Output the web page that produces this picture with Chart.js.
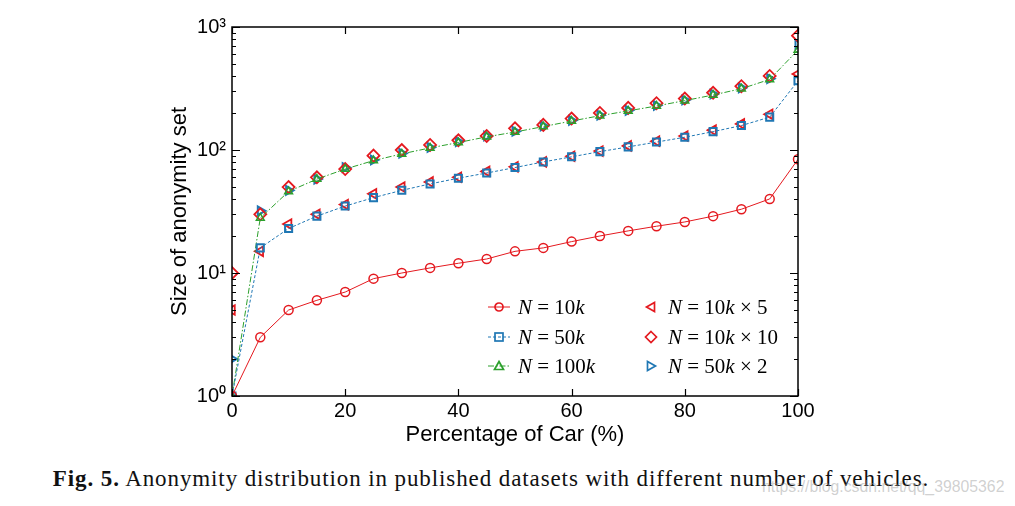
<!DOCTYPE html>
<html>
<head>
<meta charset="utf-8">
<script src="https://cdn.jsdelivr.net/npm/chart.js@4/dist/chart.umd.min.js"></script>
<style>
  body { margin: 0; background: #fff; width: 1015px; height: 506px; overflow: hidden; position: relative; }
  #chart { position: absolute; left: 0; top: 0; }
  .legend { position: absolute; font-family: "Liberation Serif", serif; font-size: 21px; color: #000; }
  .legend .row { position: absolute; white-space: nowrap; height: 24px; line-height: 24px; }
  .legend svg { position: absolute; top: 2px; }
  .legend span { position: absolute; }
  .caption { position: absolute; left: 0; width: 982px; top: 466px; text-align: center;
             font-family: "Liberation Serif", serif; font-size: 23px; letter-spacing: 0.9px; color: #111; }
  .wm { position: absolute; left: 762px; top: 478px; font-family: "Liberation Sans", sans-serif;
        font-size: 15.8px; color: rgba(150,150,150,0.45); }
</style>
</head>
<body>
<canvas id="chart" width="1015" height="450"></canvas>
<div class="legend" id="legend"></div>
<div class="caption"><b>Fig. 5.</b> Anonymity distribution in published datasets with different number of vehicles.</div>
<div class="wm">https://blog.csdn.net/qq_39805362</div>
<script>
document.addEventListener('DOMContentLoaded', function () {
    // x values (percentage of cars)
    const percent = [0, 5, 10, 15, 20, 25, 30, 35, 40, 45, 50, 55, 60, 65, 70, 75, 80, 85, 90, 95, 100];

    // anonymity set sizes
    const n10k    = [1, 3, 5, 6, 7, 9, 10, 11, 12, 13, 15, 16, 18, 20, 22, 24, 26, 29, 33, 40, 84];
    const n50k    = [1, 16, 23, 29, 35, 41, 47, 53, 59, 65, 72, 80, 88, 97, 106, 116, 127, 141, 158, 185, 365];
    const n100k   = [1, 28, 46, 58, 70, 82, 93, 104, 115, 128, 140, 155, 172, 190, 208, 228, 252, 280, 315, 375, 650];
    const n10kx5  = [5, 15, 25, 30, 36, 44, 50, 55, 60, 67, 73, 80, 89, 98, 108, 118, 130, 145, 163, 195, 415];
    const n10kx10 = [10, 30, 50, 60, 70, 90, 100, 110, 120, 130, 150, 160, 180, 200, 220, 240, 262, 292, 330, 400, 850];
    const n50kx2  = [2, 32, 47, 58, 72, 83, 94, 105, 117, 130, 142, 157, 174, 192, 210, 230, 255, 285, 320, 380, 720];

    const xTicks = [0, 20, 40, 60, 80, 100];
    const yDecades = [1, 10, 100, 1000];
    const supers = ['\u2070', '\u00b9', '\u00b2', '\u00b3'];

    const red = '#e4191f';
    const blue = '#1f77b4';
    const green = '#2ca02c';

    function pts(ys) {
        return percent.map((x, i) => ({ x: x, y: ys[i] }));
    }

    // frame and inward ticks on all four sides
    const framePlugin = {
        id: 'frame',
        afterDatasetsDraw(chart) {
            const ctx = chart.ctx;
            const a = chart.chartArea;
            const xs = chart.scales.x, ys = chart.scales.y;
            ctx.save();
            ctx.strokeStyle = '#000';
            ctx.lineWidth = 1.5;
            ctx.strokeRect(a.left, a.top, a.right - a.left, a.bottom - a.top);
            ctx.lineWidth = 1.2;
            ctx.beginPath();
            xTicks.forEach(v => {
                const px = Math.round(xs.getPixelForValue(v)) + 0.5;
                ctx.moveTo(px, a.bottom); ctx.lineTo(px, a.bottom - 7);
                ctx.moveTo(px, a.top); ctx.lineTo(px, a.top + 7);
            });
            for (let d = 1; d < 1000; d *= 10) {
                for (let m = 1; m <= 10; m++) {
                    const v = d * m;
                    const py = Math.round(ys.getPixelForValue(v)) + 0.5;
                    const len = (m === 1 || m === 10) ? 8 : 4;
                    ctx.moveTo(a.left, py); ctx.lineTo(a.left + len, py);
                    ctx.moveTo(a.right, py); ctx.lineTo(a.right - len, py);
                }
            }
            ctx.stroke();
            ctx.restore();
        }
    };

    new Chart(document.getElementById('chart').getContext('2d'), {
        type: 'line',
        data: {
            datasets: [
                { label: 'N=10k', data: pts(n10k), borderColor: red, borderWidth: 1,
                  pointStyle: 'circle', pointRadius: 4.5, pointBorderWidth: 1.5,
                  pointBorderColor: red, pointBackgroundColor: 'rgba(0,0,0,0)' },
                { label: 'N=50k', data: pts(n50k), borderColor: blue, borderWidth: 1, borderDash: [3, 2],
                  pointStyle: 'rect', pointRadius: 5, pointBorderWidth: 2,
                  pointBorderColor: blue, pointBackgroundColor: 'rgba(0,0,0,0)' },
                { label: 'N=100k', data: pts(n100k), borderColor: green, borderWidth: 1, borderDash: [6, 2, 1.5, 2],
                  pointStyle: 'triangle', pointRadius: 4.5, pointBorderWidth: 1.5,
                  pointBorderColor: green, pointBackgroundColor: 'rgba(0,0,0,0)' },
                { label: 'N=10k×5', data: pts(n10kx5), showLine: false,
                  pointStyle: 'triangle', rotation: -90, pointRadius: 5.5, pointBorderWidth: 1.8,
                  pointBorderColor: red, pointBackgroundColor: 'rgba(0,0,0,0)' },
                { label: 'N=10k×10', data: pts(n10kx10), showLine: false,
                  pointStyle: 'rectRot', pointRadius: 6, pointBorderWidth: 1.8,
                  pointBorderColor: red, pointBackgroundColor: 'rgba(0,0,0,0)' },
                { label: 'N=50k×2', data: pts(n50kx2), showLine: false,
                  pointStyle: 'triangle', rotation: 90, pointRadius: 5, pointBorderWidth: 2,
                  pointBorderColor: blue, pointBackgroundColor: 'rgba(0,0,0,0)' }
            ]
        },
        options: {
            responsive: false,
            animation: false,
            devicePixelRatio: 1,
            clip: 0,
            layout: { padding: { left: 163, right: 217, top: 27, bottom: 0 } },
            plugins: { legend: { display: false }, tooltip: { enabled: false } },
            scales: {
                x: {
                    type: 'linear', min: 0, max: 100,
                    afterBuildTicks: (s) => { s.ticks = xTicks.map(v => ({ value: v })); },
                    afterFit: (s) => { s.height = 54; },
                    grid: { display: false, drawTicks: false },
                    border: { display: false },
                    ticks: { color: '#000', padding: 3, font: { family: 'Liberation Sans', size: 20 } },
                    title: { display: true, text: 'Percentage of Car (%)', color: '#000',
                             padding: { top: 0, bottom: 2 },
                             font: { family: 'Liberation Sans', size: 22 } }
                },
                y: {
                    type: 'logarithmic', min: 1, max: 1000,
                    afterBuildTicks: (s) => { s.ticks = yDecades.map(v => ({ value: v })); },
                    afterFit: (s) => { s.width = 69; },
                    grid: { display: false, drawTicks: false },
                    border: { display: false },
                    ticks: {
                        color: '#000', padding: 6, font: { family: 'Liberation Sans', size: 20 },
                        callback: (v) => '10' + supers[Math.round(Math.log10(v))]
                    },
                    title: { display: true, text: 'Size of anonymity set', color: '#000',
                             padding: { top: 4, bottom: 0 },
                             font: { family: 'Liberation Sans', size: 22 } }
                }
            }
        },
        plugins: [framePlugin]
    });

    // legend overlay (two columns, lower right of the plot)
    const legendItems = [
        { col: 0, row: 0, color: red, line: '', marker: 'circle', html: '<i>N</i> = 10<i>k</i>' },
        { col: 0, row: 1, color: blue, line: '3 2', marker: 'square', html: '<i>N</i> = 50<i>k</i>' },
        { col: 0, row: 2, color: green, line: '6 2 1.5 2', marker: 'tri', html: '<i>N</i> = 100<i>k</i>' },
        { col: 1, row: 0, color: red, line: null, marker: 'left', html: '<i>N</i> = 10<i>k</i> × 5' },
        { col: 1, row: 1, color: red, line: null, marker: 'diamond', html: '<i>N</i> = 10<i>k</i> × 10' },
        { col: 1, row: 2, color: blue, line: null, marker: 'right', html: '<i>N</i> = 50<i>k</i> × 2' }
    ];
    const legend = document.getElementById('legend');
    legendItems.forEach(it => {
        const left = it.col === 0 ? 488 : 640;
        const top = 295 + it.row * 29.5;
        let m = '';
        const c = 'stroke="' + it.color + '" fill="none" stroke-width="1.7"';
        if (it.marker === 'circle') m = '<circle cx="11" cy="10" r="4" ' + c + '/>';
        if (it.marker === 'square') m = '<rect x="7" y="6" width="8" height="8" ' + c + ' stroke-width="2"/>';
        if (it.marker === 'tri') m = '<polygon points="11,5.5 15.5,13.5 6.5,13.5" ' + c + '/>';
        if (it.marker === 'left') m = '<polygon points="6.5,10 14.5,5.5 14.5,14.5" ' + c + '/>';
        if (it.marker === 'diamond') m = '<polygon points="11,4.5 16.5,10 11,15.5 5.5,10" ' + c + ' stroke-width="1.9"/>';
        if (it.marker === 'right') m = '<polygon points="15.5,10 7.5,5.5 7.5,14.5" ' + c + ' stroke-width="2"/>';
        let ln = '';
        if (it.line !== null) {
            ln = '<line x1="0" y1="10" x2="22" y2="10" stroke="' + it.color + '" stroke-width="1"' +
                 (it.line ? ' stroke-dasharray="' + it.line + '"' : '') + '/>';
        }
        const row = document.createElement('div');
        row.className = 'row';
        row.style.left = left + 'px';
        row.style.top = top + 'px';
        row.innerHTML = '<svg width="22" height="20">' + ln + m + '</svg>' +
                        '<span style="left:' + (it.col === 0 ? 30 : 28) + 'px">' + it.html + '</span>';
        legend.appendChild(row);
    });
});
</script>
</body>
</html>
